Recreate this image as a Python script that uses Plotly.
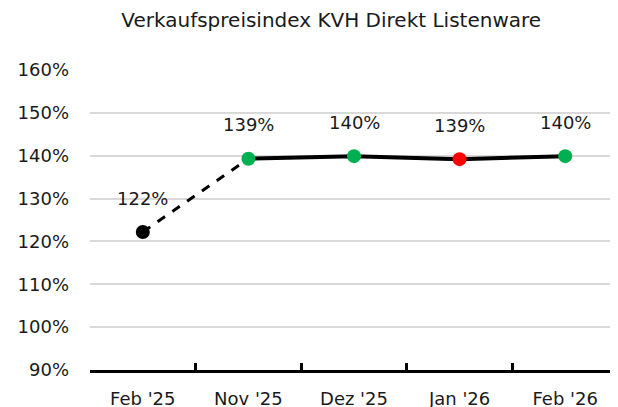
import plotly.graph_objects as go

categories = ["Feb '25", "Nov '25", "Dez '25", "Jan '26", "Feb '26"]
values = [122.2, 139.3, 139.9, 139.2, 139.9]
labels = ["122%", "139%", "140%", "139%", "140%"]
marker_colors = ["#000000", "#00B050", "#00B050", "#FF0000", "#00B050"]
y_ticks = [90, 100, 110, 120, 130, 140, 150, 160]
title_text = "Verkaufspreisindex KVH Direkt Listenware"

FONT = "DejaVu Sans"
TXT = "#1a1a1a"

fig = go.Figure()
fig.add_trace(go.Scatter(x=categories[:2], y=values[:2], mode="lines",
                         line=dict(color="black", width=3, dash="dash"),
                         hoverinfo="skip", showlegend=False))
fig.add_trace(go.Scatter(x=categories[1:], y=values[1:], mode="lines",
                         line=dict(color="black", width=4),
                         hoverinfo="skip", showlegend=False))
fig.add_trace(go.Scatter(x=categories, y=values, mode="markers",
                         marker=dict(color=marker_colors, size=14),
                         cliponaxis=False, showlegend=False))

for c, v, t in zip(categories, values, labels):
    fig.add_annotation(x=c, y=v, text=t, showarrow=False, yshift=34,
                       font=dict(size=18, color=TXT, family=FONT))

# page body adds an 8px offset, margins compensate
fig.update_layout(
    width=618, height=407,
    margin=dict(l=82, r=8, t=62, b=45),
    paper_bgcolor="white", plot_bgcolor="white",
    title=dict(text=title_text, x=0.523, xanchor="center", y=0.97, yanchor="middle",
               font=dict(size=20, color=TXT, family=FONT)),
    font=dict(family=FONT, color=TXT),
)
fig.update_xaxes(type="category", range=[-0.5, len(categories) - 0.5],
                 showgrid=False, showline=True, linecolor="black",
                 linewidth=3, ticks="inside", ticklen=7, tickwidth=2.5, tickcolor="black",
                 tickson="boundaries", tickfont=dict(size=18, family=FONT, color=TXT),
                 ticklabelstandoff=10, automargin=False)
fig.update_yaxes(range=[90, 160], tickvals=y_ticks, ticktext=[f"{v}%" for v in y_ticks],
                 showgrid=True, gridcolor="#d9d9d9", gridwidth=1.5, zeroline=False,
                 showline=False, tickfont=dict(size=18, family=FONT, color=TXT),
                 ticklabelstandoff=20, automargin=False)

fig.write_html("out.html")
